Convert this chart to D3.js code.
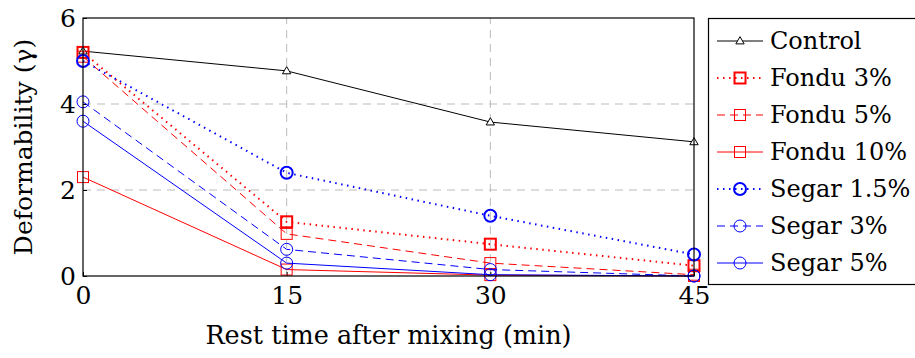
<!DOCTYPE html>
<html>
<head>
<meta charset="utf-8">
<script src="https://cdn.jsdelivr.net/npm/d3@7"></script>
<style>
  body { margin: 0; background: #fff; }
</style>
</head>
<body>
<div id="chart"></div>
<script>
// rest time (min)
const times = [0, 15, 30, 45];
const xTicks = [0, 15, 30, 45];
const yTicks = [0, 2, 4, 6];

const seriesNames = ["Control", "Fondu 3%", "Fondu 5%", "Fondu 10%", "Segar 1.5%", "Segar 3%", "Segar 5%"];
const control   = [5.23, 4.77, 3.58, 3.12];
const fondu3    = [5.2, 1.26, 0.74, 0.24];
const fondu5    = [5.1, 0.98, 0.3, 0.03];
const fondu10   = [2.3, 0.15, 0.02, 0.0];
const segar15   = [5.0, 2.4, 1.4, 0.5];
const segar3    = [4.05, 0.62, 0.15, 0.0];
const segar5    = [3.6, 0.3, 0.03, 0.0];

const styles = [
  {color: "#000", dash: null, marker: "tri", width: 1, mw: 1},
  {color: "#f00", dash: "1.5,4.5", marker: "sq", width: 2, mw: 2},
  {color: "#f00", dash: "8,5", marker: "sq", width: 1, mw: 1},
  {color: "#f00", dash: null, marker: "sq", width: 1, mw: 1},
  {color: "#00f", dash: "1.5,4.5", marker: "ci", width: 2, mw: 2},
  {color: "#00f", dash: "8,5", marker: "ci", width: 1, mw: 1},
  {color: "#00f", dash: null, marker: "ci", width: 1, mw: 1}
];
const allValues = [control, fondu3, fondu5, fondu10, segar15, segar3, segar5];

const FONT = "'DejaVu Serif'";

var width = 915, height = 358;
var margin = {top: 18, left: 83, right: 221, bottom: 82};

const svg = d3.select("#chart").append("svg")
  .attr("width", width).attr("height", height);

var x = d3.scaleLinear().domain([0, 45]).range([margin.left, width - margin.right]);
var y = d3.scaleLinear().domain([0, 6]).range([height - margin.bottom, margin.top]);

// grid
svg.append("g").selectAll("line.gx").data([15, 30]).enter().append("line")
  .attr("x1", d => x(d)).attr("x2", d => x(d))
  .attr("y1", y(0)).attr("y2", y(6))
  .attr("stroke", "#bbb").attr("stroke-dasharray", "8,6");
svg.append("g").selectAll("line.gy").data([2, 4]).enter().append("line")
  .attr("x1", x(0)).attr("x2", x(45))
  .attr("y1", d => y(d)).attr("y2", d => y(d))
  .attr("stroke", "#bbb").attr("stroke-dasharray", "8,6");

// axes
svg.append("g")
  .attr("transform", "translate(0," + y(0) + ")")
  .call(d3.axisBottom(x).tickValues(xTicks).tickFormat(d3.format("d")).tickSize(-4).tickPadding(10))
  .call(g => g.select(".domain").remove())
  .attr("font-family", null)
  .selectAll("text").attr("font-size", 25).attr("fill", "#000")
  .style("font-family", FONT);

svg.append("g")
  .attr("transform", "translate(" + x(0) + ",0)")
  .call(d3.axisLeft(y).tickValues(yTicks).tickFormat(d3.format("d")).tickSize(-4).tickPadding(7))
  .call(g => g.select(".domain").remove())
  .attr("font-family", null)
  .selectAll("text").attr("font-size", 25).attr("fill", "#000")
  .attr("dy", "0.35em").style("font-family", FONT);

svg.selectAll(".tick line").attr("stroke", "#000");

const plot = svg.append("g");

var line = d3.line().x((d, i) => x(times[i])).y(d => y(d));

function drawMarker(g, s, cx, cy) {
  if (s.marker === "tri") {
    g.append("path").attr("d", d3.symbol().type(d3.symbolTriangle).size(30)())
      .attr("transform", "translate(" + cx + "," + (cy + 0.5) + ")")
      .attr("fill", "#fff").attr("stroke", s.color).attr("stroke-width", s.mw);
  } else if (s.marker === "sq") {
    g.append("rect").attr("x", cx - 5.5).attr("y", cy - 5.5)
      .attr("width", 11).attr("height", 11)
      .attr("fill", "none").attr("stroke", s.color).attr("stroke-width", s.mw);
  } else {
    g.append("circle").attr("cx", cx).attr("cy", cy).attr("r", 6)
      .attr("fill", "none").attr("stroke", s.color).attr("stroke-width", s.mw);
  }
}

allValues.forEach((vals, k) => {
  const s = styles[k];
  plot.append("path").datum(vals)
    .attr("d", line).attr("fill", "none")
    .attr("stroke", s.color).attr("stroke-width", s.width)
    .attr("stroke-dasharray", s.dash);
  vals.forEach((v, i) => drawMarker(plot, s, x(times[i]), y(v)));
});

// frame
svg.append("rect").attr("x", x(0)).attr("y", y(6))
  .attr("width", x(45) - x(0)).attr("height", y(0) - y(6))
  .attr("fill", "none").attr("stroke", "#000").attr("stroke-width", 1.2);

// axis titles
svg.append("text").attr("x", (x(0) + x(45)) / 2).attr("y", 344)
  .attr("text-anchor", "middle").attr("font-size", 25.5)
  .style("font-family", FONT)
  .text("Rest time after mixing (min)");
svg.append("text").attr("transform", "translate(32," + ((y(0) + y(6)) / 2) + ") rotate(-90)")
  .attr("text-anchor", "middle").attr("font-size", 25)
  .style("font-family", FONT)
  .text("Deformability (γ)");

// legend
const lg = svg.append("g");
lg.append("rect").attr("x", 708.5).attr("y", 18.5).attr("width", 215).attr("height", 266)
  .attr("fill", "#fff").attr("stroke", "#000").attr("stroke-width", 1.2);
seriesNames.forEach((name, k) => {
  const s = styles[k];
  const ly = 41 + k * 37;
  lg.append("line").attr("x1", 717).attr("x2", 763).attr("y1", ly).attr("y2", ly)
    .attr("stroke", s.color).attr("stroke-width", s.width).attr("stroke-dasharray", s.dash);
  drawMarker(lg, s, 740, ly);
  lg.append("text").attr("x", 770).attr("y", ly).attr("dy", "0.35em")
    .attr("font-size", 24).style("font-family", FONT).text(name);
});
</script>
</body>
</html>
